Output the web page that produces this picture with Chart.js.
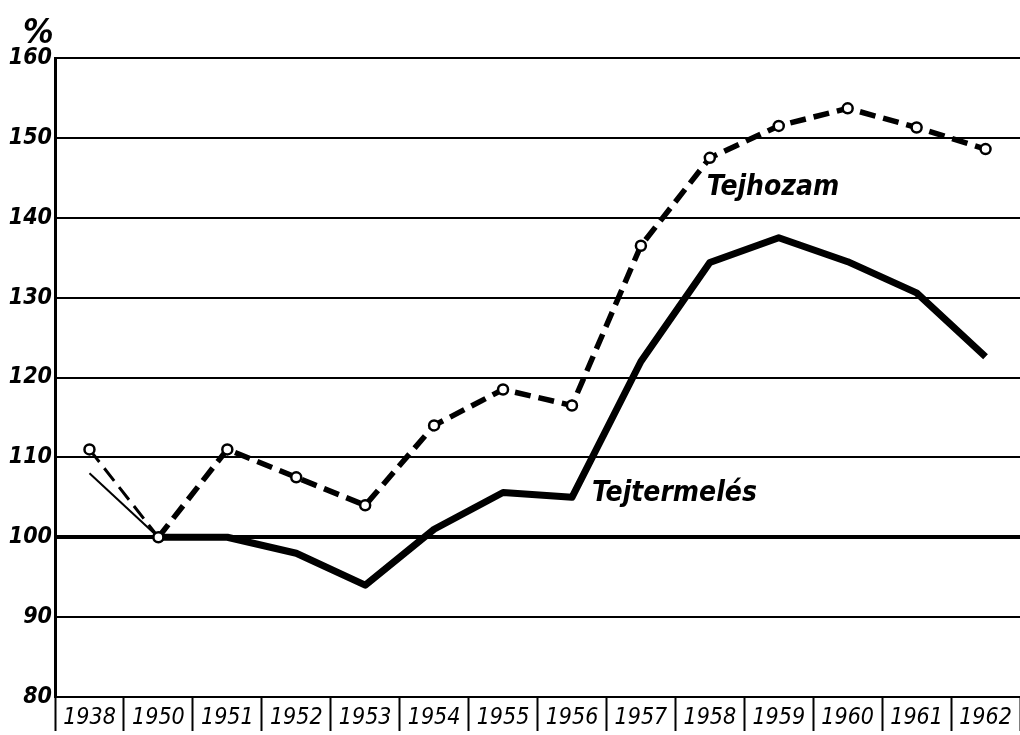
<!DOCTYPE html>
<html>
<head>
<meta charset="utf-8">
<script src="https://cdn.jsdelivr.net/npm/chart.js@4"></script>
<style>
  html, body { margin: 0; padding: 0; background: #fff; }
  canvas { display: block; }
</style>
</head>
<body>
<canvas id="milk-chart" width="1020" height="735"></canvas>
<script>
const years = ['1938', '1950', '1951', '1952', '1953', '1954', '1955', '1956', '1957', '1958', '1959', '1960', '1961', '1962'];
const tejhozam = [111, 100, 111, 107.5, 104, 114, 118.5, 116.5, 136.5, 147.5, 151.5, 153.7, 151.3, 148.6];
const tejtermeles = [108, 100, 100, 98, 94, 101, 105.6, 105, 122, 134.4, 137.5, 134.5, 130.6, 122.6];
const yTicks = [80, 90, 100, 110, 120, 130, 140, 150, 160];

const FONT = '"DejaVu Sans Condensed", "DejaVu Sans", sans-serif';

// text labels on the chart (percent sign and the two line names)
const notes = {
    id: 'notes',
    afterDraw(chart) {
        const c = chart.ctx;
        const x = chart.scales.x, y = chart.scales.y;
        c.save();
        c.fillStyle = '#000';
        c.font = 'italic bold 34px ' + FONT;
        c.textBaseline = 'alphabetic';
        c.fillText('%', 23, 43);
        c.font = 'italic 600 28px ' + FONT;
        c.textBaseline = 'middle';
        c.fillText('Tejhozam', x.getPixelForValue(9) - 3, y.getPixelForValue(143.8));
        c.fillText('Tejtermelés', x.getPixelForValue(7) + 20, y.getPixelForValue(105.5));
        c.restore();
    }
};

document.addEventListener('DOMContentLoaded', () => {
    let ctx = document.getElementById('milk-chart').getContext('2d');
    window.milkChart = new Chart(ctx, {
        type: 'line',
        data: {
            labels: years,
            datasets: [
                {
                    label: 'Tejhozam',
                    data: tejhozam,
                    borderColor: '#000',
                    borderWidth: 5.5,
                    borderDash: [16, 8],
                    segment: {
                        borderWidth: (s) => s.p0DataIndex === 0 ? 3 : 5.5
                    },
                    pointRadius: 5,
                    pointBorderWidth: 2.5,
                    pointBackgroundColor: '#fff',
                    pointBorderColor: '#000',
                    tension: 0,
                    fill: false
                },
                {
                    label: 'Tejtermelés',
                    data: tejtermeles,
                    borderColor: '#000',
                    borderWidth: 7,
                    segment: {
                        borderWidth: (s) => s.p0DataIndex === 0 ? 2 : 7
                    },
                    borderJoinStyle: 'round',
                    pointRadius: 0,
                    tension: 0,
                    fill: false
                }
            ]
        },
        options: {
            responsive: false,
            animation: false,
            devicePixelRatio: 1,
            layout: { autoPadding: false, padding: { top: 58, left: 0, right: 0, bottom: 0 } },
            scales: {
                x: {
                    type: 'category',
                    offset: true,
                    afterFit: (scale) => { scale.height = 38; },
                    grid: {
                        offset: true,
                        drawOnChartArea: false,
                        drawTicks: true,
                        tickLength: 34,
                        tickWidth: 2,
                        tickColor: '#000'
                    },
                    border: { display: true, color: '#000', width: 2 },
                    ticks: {
                        color: '#000',
                        padding: -27,
                        maxRotation: 0,
                        autoSkip: false,
                        font: { family: FONT, size: 23, style: 'italic' }
                    }
                },
                y: {
                    min: 80,
                    max: 160,
                    afterFit: (scale) => { scale.width = 55; },
                    afterBuildTicks: (scale) => { scale.ticks = yTicks.map(v => ({ value: v })); },
                    grid: {
                        color: '#000',
                        lineWidth: (g) => g.tick && g.tick.value === 100 ? 4 : 2,
                        drawTicks: false
                    },
                    border: { display: true, color: '#000', width: 3 },
                    ticks: {
                        color: '#000',
                        padding: 3,
                        font: { family: FONT, size: 23, style: 'italic', weight: 'bold' }
                    }
                }
            },
            plugins: {
                legend: { display: false },
                tooltip: { enabled: false }
            }
        },
        plugins: [notes]
    });
});
</script>
</body>
</html>
